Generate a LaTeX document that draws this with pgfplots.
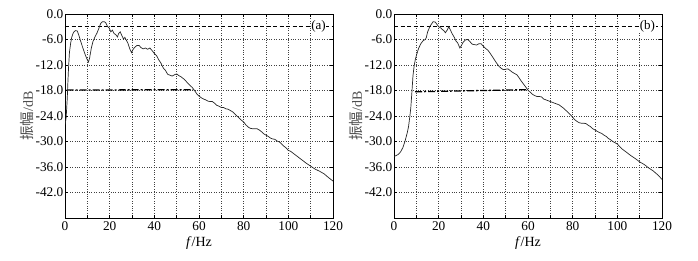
\documentclass[border=0pt]{standalone}
\usepackage{fontspec}
\setmainfont{Liberation Serif}
\newfontfamily\cjk{Noto Sans CJK SC}
\usepackage{pgfplots}
\pgfplotsset{compat=1.18}
\pgfplotstableread{
x y
0 -26.0
0.5 -24.5
1.0 -20
1.3 -16
1.6 -12.5
2.0 -9
2.5 -7
3.0 -5.5
3.5 -4.7
4.0 -4.2
4.7 -3.9
5.5 -4.0
6.2 -5.0
7.0 -6.4
8.0 -8.0
9.0 -9.5
10.0 -10.8
10.5 -11.3
11.0 -10.4
11.8 -8.0
12.5 -6.5
13.5 -5.3
14.3 -4.5
15.0 -3.6
16.0 -2.2
16.8 -1.8
17.6 -1.8
18.3 -2.1
19.0 -2.9
19.8 -3.3
20.5 -4.2
21.2 -3.8
22.0 -4.6
22.8 -4.9
23.5 -5.4
24.0 -4.6
24.7 -4.2
25.4 -5.0
26.2 -5.9
26.8 -5.5
27.5 -6.2
28.2 -6.9
29.0 -8.2
29.8 -9.1
30.5 -8.3
31.3 -7.8
32.2 -7.4
33.2 -7.4
34.0 -7.9
35.0 -8.2
36.0 -8.0
37.0 -8.3
38.0 -8.0
39.0 -8.6
40.0 -9.3
41.0 -9.8
42.0 -10.8
43.0 -11.6
44.0 -12.7
45.0 -13.3
46.0 -14.2
47.0 -14.4
48.0 -14.6
49.0 -14.3
50.0 -14.1
51.0 -14.5
52.0 -14.8
53.0 -15.2
54.0 -15.7
55.0 -16.3
56.0 -16.8
57.0 -17.3
58.0 -18.0
59.0 -18.8
60.0 -19.3
61.0 -19.7
62.0 -20.0
63.0 -20.2
64.0 -20.5
65.0 -20.6
66.0 -20.6
67.0 -21.0
68.0 -21.5
69.0 -21.7
70.0 -22.0
71.0 -22.0
72.0 -22.3
73.0 -22.4
74.0 -22.7
75.0 -23.0
76.0 -23.5
77.0 -24.0
78.0 -24.5
79.0 -25.0
80.0 -25.4
81.0 -26.1
82.0 -26.6
83.0 -26.9
84.0 -27.0
85.0 -27.0
86.0 -27.0
87.0 -27.3
88.0 -27.7
89.0 -28.2
90.0 -28.5
91.0 -28.8
92.0 -29.2
93.0 -29.4
94.0 -29.5
95.0 -29.9
96.0 -30.1
97.0 -30.6
98.0 -31.1
99.0 -31.5
100.0 -32.1
101.0 -32.3
102.0 -32.7
103.0 -33.1
104.0 -33.5
106.0 -34.3
108.0 -35.1
110.0 -35.8
112.0 -36.5
114.0 -37.0
116.0 -37.6
118.0 -38.5
120.0 -39.3
}\dataA
\pgfplotstableread{
x y
0 -33.5
1 -33.3
2 -33.0
3 -32.4
4 -31.4
5 -29.8
5.5 -28.8
6 -27.8
6.5 -26.5
7 -24.5
7.5 -22.2
8 -18.5
8.5 -14.5
9 -12.3
9.5 -10.8
10 -9.8
11 -8.1
12 -7.0
13 -6.3
14 -6.0
14.5 -5.5
15 -4.3
16 -3.0
17 -2.2
17.5 -1.8
18.5 -1.9
19.3 -2.5
20 -3.0
21 -3.3
21.5 -3.6
22.3 -3.9
23 -4.4
23.8 -3.8
24.5 -3.0
25.3 -3.8
26 -4.6
27 -5.5
27.8 -6.4
28.5 -6.8
29.5 -8.0
30.2 -7.4
31 -6.6
32 -6.1
33 -6.0
34 -6.5
35 -7.1
36 -7.2
37 -7.3
38 -7.0
39 -7.0
40 -7.6
41 -8.1
42 -8.5
43 -9.2
44 -10.0
45 -10.8
46 -11.6
47 -12.3
48 -12.8
49 -13.1
50 -13.0
51 -12.9
52 -13.3
53 -13.7
54 -14.0
55 -14.3
56 -15.0
57 -15.8
58 -16.5
59 -17.2
60 -17.9
61 -18.4
62 -18.9
63 -19.2
64 -19.4
65 -19.4
66 -19.5
67 -20.0
68 -20.2
69 -20.4
70 -20.6
71 -20.8
72 -21.0
73 -21.2
74 -21.4
75 -21.8
76 -22.2
77 -22.7
78 -23.2
79 -23.7
80 -24.3
81 -24.9
82 -25.3
83 -25.6
84 -25.7
85 -25.7
86 -25.8
87 -26.2
88 -26.5
89 -27.0
90 -27.3
91 -27.6
92 -27.9
93 -28.1
94 -28.5
95 -28.8
96 -29.3
97 -29.6
98 -30.0
99 -30.3
100 -30.6
102 -31.7
104 -32.5
106 -33.3
108 -34.0
110 -34.8
112 -35.4
114 -36.2
116 -36.9
118 -37.8
120 -38.9
}\dataB
\pgfplotsset{
  myax/.style={
    scale only axis, width=268pt, height=204pt,
    anchor=south west,
    xmin=0, xmax=120, ymin=-48, ymax=0,
    xtick={0,20,40,60,80,100,120},
    xticklabels={0,20,40,60,80,100,120},
    minor xtick={10,30,50,70,90,110},
    ytick={-42,-36,-30,-24,-18,-12,-6,0},
    yticklabels={-42.0,-36.0,-30.0,-24.0,-18.0,-12.0,-6.0,0.0},
    grid=both,
    major grid style={black!75, dotted, line width=0.6pt},
    minor grid style={black!75, dotted, line width=0.6pt},
    tick align=inside, major tick length=3pt, minor tick length=3pt,
    tick style={black, line width=0.5pt},
    axis line style={black, line width=0.8pt},
    tick label style={font=\fontsize{13.3}{15}\selectfont},
    label style={font=\fontsize{14}{16}\selectfont},
    xlabel={\textit{f}/Hz},
    ylabel={\textcolor{black!70}{{\cjk\fontsize{14.5}{16}\selectfont 振幅}/dB}},
    ylabel style={at={(axis description cs:-0.14,0.5)}, anchor=center},
    xlabel style={at={(axis description cs:0.5,-0.125)}, anchor=center},
    yticklabel style={inner sep=0pt, xshift=-1.5pt},
    xticklabel style={inner sep=1pt, yshift=-2pt},
  }
}
\begin{document}
\begin{tikzpicture}[x=1pt,y=1pt]
\path[use as bounding box] (0,0) rectangle (698,260);
\begin{axis}[myax, at={(65pt,42pt)}]
\addplot[black, line width=0.5pt, dash pattern=on 4pt off 2.5pt] coordinates {(0,-2.8) (120,-2.8)};
\addplot[black, line width=1.3pt, dash pattern=on 7pt off 2pt on 2pt off 2pt] coordinates {(0.7,-17.9) (57.5,-17.8)};
\addplot[black!85, line width=0.7pt] table[x=x,y=y] {\dataA};
\node[fill=white, inner sep=0.5pt, font=\fontsize{13}{15}\selectfont] at (axis cs:113.5,-2.8) {(a)};
\end{axis}
\begin{axis}[myax, at={(394pt,42pt)}]
\addplot[black, line width=0.5pt, dash pattern=on 4pt off 2.5pt] coordinates {(0,-2.8) (120,-2.8)};
\addplot[black, line width=1.3pt, dash pattern=on 7pt off 2pt on 2pt off 2pt] coordinates {(9.5,-18.3) (59.5,-17.8)};
\addplot[black!85, line width=0.7pt] table[x=x,y=y] {\dataB};
\node[fill=white, inner sep=0.5pt, font=\fontsize{13}{15}\selectfont] at (axis cs:113.5,-2.8) {(b)};
\end{axis}
\end{tikzpicture}
\end{document}
